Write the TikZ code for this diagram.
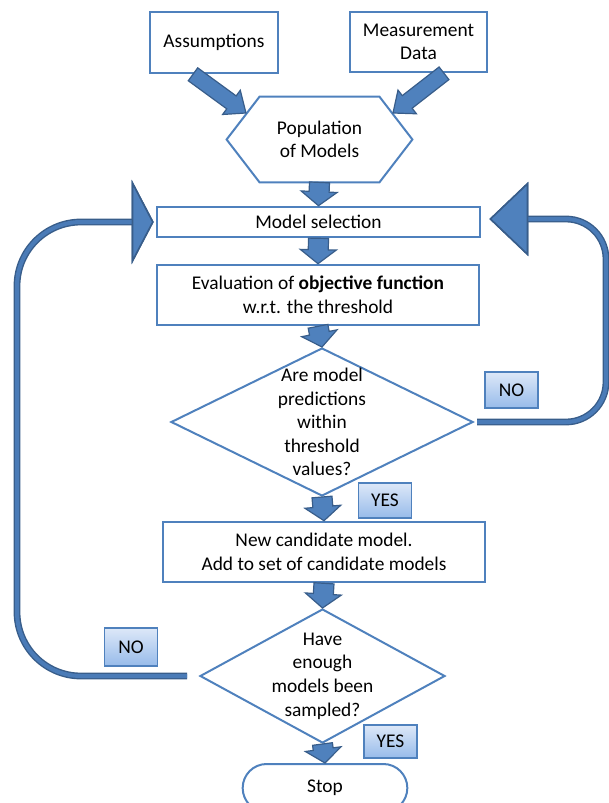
\documentclass[tikz,border=0pt]{standalone}
\usepackage{fontspec}
\setmainfont{Carlito}
\usepackage{xcolor}
\usetikzlibrary{shapes.geometric,shapes.misc,arrows.meta,calc}

\definecolor{boxblue}{HTML}{4F81BD}
\definecolor{loopblue}{HTML}{4A7BB7}
\definecolor{edgeblue}{HTML}{385D8A}
\definecolor{tagtop}{HTML}{DDE8F8}
\definecolor{tagbot}{HTML}{97BBEA}

% fat block arrow: from, to, shaft half width, head half width, head length
\newcommand{\blockarrow}[5]{%
  \filldraw[fill=boxblue, draw=edgeblue, line width=0.6pt, line join=miter]
    let \p1=($(#2)-(#1)$), \n1={atan2(\y1,\x1)}, \n2={veclen(\x1,\y1)} in
    [shift={(#1)}, rotate=\n1]
    (0pt,-#3) -- (\n2-#5,-#3) -- (\n2-#5,-#4) -- (\n2,0pt)
    -- (\n2-#5,#4) -- (\n2-#5,#3) -- (0pt,#3) -- cycle;}

\begin{document}
\begin{tikzpicture}[
    x=0.5pt, y=-0.5pt,
    font=\fontsize{9.7}{11.8}\selectfont,
    process/.style={draw=boxblue, line width=1.3pt, rectangle, align=center, inner sep=0pt},
    decision/.style={draw=boxblue, line width=1pt, diamond, inner sep=0pt},
    tag/.style={draw=boxblue, line width=0.9pt, top color=tagtop, bottom color=tagbot,
                minimum width=26.5pt, minimum height=18pt, inner sep=0pt},
    loopline/.style={draw=loopblue, line width=2pt, preaction={draw=edgeblue, line width=3.4pt}},
    bighead/.style={-{Triangle[#1, color=edgeblue, fill=boxblue, line width=0.8pt]}}
]
\useasboundingbox (0,0) rectangle (609,803);
\clip (0,0) rectangle (609,803);

\node[process, minimum width=64pt, minimum height=30.5pt] (assume) at (214,42.5) {Assumptions};
\node[process, minimum width=68.5pt, minimum height=30pt] (meas) at (418.5,42) {Measurement\\Data};

\node[align=center, minimum width=92.5pt, minimum height=42.5pt, inner sep=0pt] (pop) at (319.5,139.5) {Population\\of Models};
\draw[boxblue, line width=1pt, line join=miter]
  (pop.west) -- ([xshift=16.5pt]pop.north west) -- ([xshift=-16.5pt]pop.north east)
  -- (pop.east) -- ([xshift=-16.5pt]pop.south east) -- ([xshift=16.5pt]pop.south west) -- cycle;

\node[process, minimum width=161.5pt, minimum height=15pt] (sel) at (318.5,222) {Model selection};
\node[process, minimum width=161pt, minimum height=30pt] (eval) at (318,295)
  {Evaluation of \textbf{objective function}\\w.r.t. the threshold};

\node[decision, minimum width=151pt, minimum height=74pt,
      label={[align=center]center:Are model\\predictions\\within\\threshold\\values?}] (valid) at (322,422) {};

\node[process, minimum width=161pt, minimum height=30pt] (cand) at (324,552)
  {New candidate model.\\Add to set of candidate models};

\node[decision, minimum width=122.5pt, minimum height=67pt,
      label={[align=center]center:Have\\enough\\models been\\sampled?}] (chk) at (322.5,676) {};

\node[draw=boxblue, line width=1pt, rounded rectangle, minimum width=89pt, minimum height=24pt] (stop) at (325,788) {Stop};

\node[tag] (no1) at (511.5,390) {NO};
\node[tag, minimum height=17.5pt] (yes1) at (385,500.5) {YES};
\node[tag, minimum height=19pt] (no2) at (131,647) {NO};
\node[tag, minimum height=16.5pt] (yes2) at (390.5,741.5) {YES};

\blockarrow{[xshift=-10.5pt]assume.south}{[shift={(-73.5,-26.5)}]pop.center}{4pt}{7.5pt}{9pt}
\blockarrow{[xshift=12.75pt]meas.south}{[shift={(73.5,-26.5)}]pop.center}{4pt}{7.5pt}{9pt}
\blockarrow{pop.south}{sel.north}{5pt}{9pt}{7pt}
\blockarrow{sel.south}{eval.north}{5pt}{9pt}{7pt}
\blockarrow{eval.south}{valid.north}{5pt}{9pt}{7pt}
\blockarrow{valid.south}{cand.north}{5pt}{9pt}{7pt}
\blockarrow{cand.south}{chk.north}{5pt}{9pt}{7pt}
\blockarrow{chk.south}{stop.north}{5pt}{9pt}{7pt}

\coordinate (lft) at (17,400);
\coordinate (rgt) at (606,400);
\draw[loopline, rounded corners=32pt, bighead={width=42pt, length=11pt}]
  ([xshift=-6pt]chk.west) -- (lft |- chk.west) -- (lft |- sel.west) -- ([xshift=-1pt]sel.west);
\draw[loopline, rounded corners=20pt, bighead={width=37pt, length=19.5pt}]
  ([xshift=1.5pt]valid.east) -- (rgt |- valid.east) -- ([yshift=1.5pt]rgt |- sel.east)
  -- ([xshift=4pt, yshift=1.5pt]sel.east);
\end{tikzpicture}
\end{document}
